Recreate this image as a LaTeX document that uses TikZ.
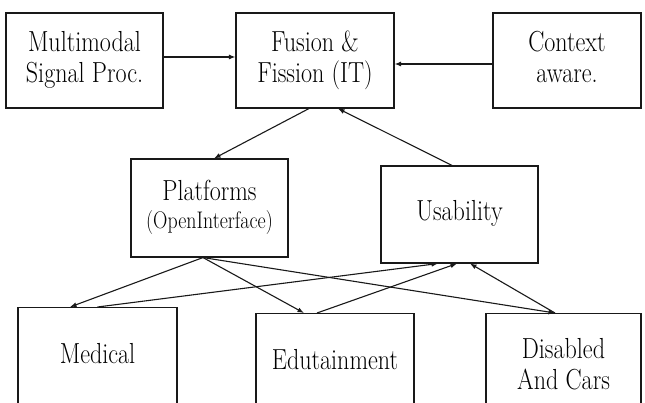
\documentclass[tikz,border=0pt]{standalone}
\usepackage{graphicx}
\usetikzlibrary{arrows.meta}
\newcommand\ntxt[1]{\scalebox{0.83}[1]{\begin{tabular}{@{}c@{}}#1\end{tabular}}}
\begin{document}
\begin{tikzpicture}[x=1pt,y=-1pt,
  box/.style={draw=black!90, line width=1.1pt, inner sep=0pt, align=center,
    font=\fontsize{29}{31}\selectfont\rmfamily},
  arr/.style={draw=black!90, line width=1.1pt, -{Latex[length=6.5pt,width=5pt]}}]
\useasboundingbox (0,0) rectangle (645,403);
\clip (0,0) rectangle (645,403);
\fill[white] (0,0) rectangle (645,403);
% top row
\node[box, minimum width=157pt, minimum height=95pt] (mm) at (84.5,60.5) {\ntxt{Multimodal\\Signal Proc.}};
\node[box, minimum width=158pt, minimum height=95pt] (fus) at (315,60.5) {\ntxt{Fusion \&\\Fission (IT)}};
\node[box, minimum width=148pt, minimum height=95pt] (ctx) at (567,60.5) {\ntxt{Context\\aware.}};
% middle row
\node[box, minimum width=157pt, minimum height=98pt] (plat) at (209.5,208) {\ntxt{Platforms\\[-3pt]{\fontsize{24}{26}\selectfont (OpenInterface)}}};
\node[box, minimum width=157pt, minimum height=97pt] (usa) at (459.5,214.5) {\ntxt{Usability}};
% bottom row
\node[box, minimum width=159pt, minimum height=100pt, anchor=north] (med) at (97.5,307) {\ntxt{Medical}};
\node[box, minimum width=158pt, minimum height=100pt, anchor=north] (edu) at (335,313) {\ntxt{Edutainment}};
\node[box, minimum width=155pt, minimum height=109pt, anchor=north] (dis) at (563.5,313) {\ntxt{Disabled\\And Cars}};
% connectors
\draw[arr] ([yshift=3.5pt]mm.east) -- ([yshift=3.5pt]fus.west);
\draw[arr] ([yshift=-3.5pt]ctx.west) -- ([yshift=-3.5pt]fus.east);
\draw[arr] ([xshift=-6pt]fus.south) -- ([xshift=4.5pt]plat.north);
\draw[arr] ([xshift=-7.5pt]usa.north) -- ([xshift=23pt]fus.south);
\draw[arr] ([xshift=-6.5pt]plat.south) -- ([xshift=-27.5pt]med.north);
\draw[arr] ([xshift=-6.5pt]plat.south) -- ([xshift=-31pt]edu.north);
\draw[arr] ([xshift=-6.5pt]plat.south) -- ([xshift=-8.5pt]dis.north);
\draw[arr] (med.north) -- ([xshift=-21.5pt]usa.south);
\draw[arr] ([xshift=-18pt]edu.north) -- ([xshift=-2.5pt]usa.south);
\draw[arr] ([xshift=-8.5pt]dis.north) -- ([xshift=10.5pt]usa.south);
\end{tikzpicture}
\end{document}
